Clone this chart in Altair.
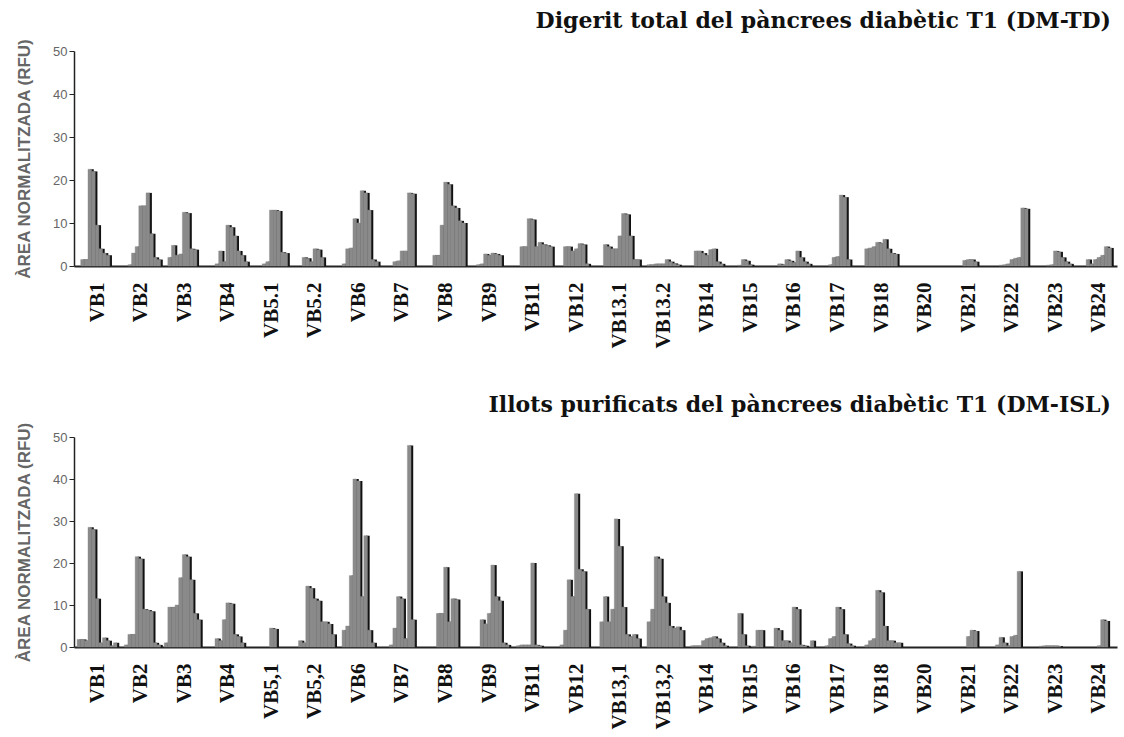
import json
import altair as alt
import pandas as pd

GROUPS_TD = ["VB1", "VB2", "VB3", "VB4", "VB5.1", "VB5.2", "VB6", "VB7", "VB8", "VB9",
             "VB11", "VB12", "VB13.1", "VB13.2", "VB14", "VB15", "VB16", "VB17", "VB18",
             "VB20", "VB21", "VB22", "VB23", "VB24"]
GROUPS_ISL = ["VB1", "VB2", "VB3", "VB4", "VB5,1", "VB5,2", "VB6", "VB7", "VB8", "VB9",
              "VB11", "VB12", "VB13,1", "VB13,2", "VB14", "VB15", "VB16", "VB17", "VB18",
              "VB20", "VB21", "VB22", "VB23", "VB24"]

TD_VALUES = [
    [0, 1.5, 1.5, 22.5, 22, 9.5, 4, 3, 2.5, 0, 0],
    [0, 0, 0.3, 3, 4.5, 14, 14, 17, 7.5, 2, 1.5],
    [0, 2, 4.8, 2.5, 2.8, 12.5, 12.3, 4, 3.8, 0, 0],
    [0, 0, 0.5, 3.5, 1, 9.5, 9, 7, 3.5, 2.5, 1],
    [0, 0, 0, 0.5, 1, 13, 13, 12.8, 3.2, 3, 0],
    [0, 0, 2, 1.8, 1, 4, 3.8, 2, 0, 0, 0],
    [0, 0.5, 4, 4.2, 11, 10, 17.5, 17, 13, 1.5, 1],
    [0, 0, 0, 1, 1.2, 3.5, 3.5, 17, 16.8, 0, 0],
    [0, 0, 2.5, 2.5, 9.5, 19.5, 19, 14, 13.5, 10.5, 10],
    [0, 0, 0.3, 0.5, 2.8, 2.5, 3, 2.8, 2.5, 0, 0],
    [0, 0, 4.5, 4.5, 11, 10.8, 4.5, 5.5, 5, 4.8, 4.5],
    [0, 0, 4.5, 4.5, 3.5, 4, 5.2, 5, 0.5, 0, 0],
    [0, 5, 4.5, 4, 4, 7, 12.2, 12, 7, 1.5, 1.5],
    [0, 0.3, 0.3, 0.5, 0.5, 0.5, 1.5, 1, 0.6, 0.3, 0],
    [0, 0, 3.5, 3.5, 3, 2.5, 3.8, 4, 1, 0.5, 0],
    [0, 0, 0.2, 1.5, 1.2, 0.3, 0, 0, 0, 0, 0],
    [0, 0.5, 0.3, 1.5, 1.2, 0.8, 3.5, 2, 1, 0.5, 0],
    [0, 0, 0, 0.3, 2, 2.2, 16.5, 16, 1.5, 0, 0],
    [0, 4, 4.2, 4.5, 5.5, 5.3, 6.2, 4, 3, 2.8, 0],
    [0, 0, 0, 0, 0, 0, 0, 0, 0, 0, 0],
    [0, 0, 0, 0, 1.3, 1.5, 1.5, 1, 0, 0, 0],
    [0, 0, 0.2, 0.3, 0.5, 1.5, 1.8, 2, 13.5, 13.3, 0],
    [0, 0, 0, 0.2, 0.3, 3.5, 3.3, 2, 1, 0.5, 0],
    [0, 0, 1.5, 0.5, 1.5, 2, 2.5, 4.5, 4.2, 0, 0],
]

ISL_VALUES = [
    [1.8, 1.8, 1.5, 28.5, 28, 11.5, 1, 2.2, 1.5, 0.3, 1],
    [0, 0.5, 3, 3, 21.5, 21, 9, 8.8, 8.5, 1, 0.5],
    [1, 9.5, 9.5, 10, 16.5, 22, 21.5, 16, 8, 6.5, 0],
    [0, 0, 2, 1.5, 6.5, 10.5, 10.3, 3, 2.5, 1, 0],
    [0, 0, 0, 0, 0, 4.5, 4.3, 0, 0, 0, 0],
    [0, 1.5, 1, 14.5, 14, 11.5, 11, 6, 6, 5.5, 3],
    [0, 4, 5, 17, 40, 39.5, 12, 26.5, 4, 1, 0],
    [0, 0, 0.5, 4.5, 12, 11.5, 2, 48, 6.5, 0, 0],
    [0, 0, 0, 8, 8, 19, 6, 11.5, 11.3, 0, 0],
    [0, 0, 0, 6.5, 5.5, 8, 19.5, 12, 11, 1, 0.5],
    [0, 0.3, 0.5, 0.5, 0.5, 20, 0.5, 0.3, 0, 0, 0],
    [0, 0.5, 4, 16, 12, 36.5, 18.5, 18, 9, 0, 0],
    [6, 12, 6, 9, 30.5, 24, 9.5, 3, 2.5, 3, 2],
    [0, 6, 9, 21.5, 21, 12, 10.5, 5, 4.5, 4.8, 4],
    [0, 0.3, 0.3, 0.3, 1.5, 2, 2.2, 2.5, 2, 1, 0.3],
    [0, 0, 8, 3, 0.3, 0, 0.2, 4, 4, 0, 0],
    [4.5, 4, 1.5, 1.5, 1, 9.5, 9, 0.5, 0.3, 0, 1.5],
    [0, 0, 0.3, 2, 2.5, 9.5, 9, 3, 0.8, 0.3, 0],
    [0, 0.5, 1.5, 2, 13.5, 13, 5, 1.5, 1.5, 1, 1],
    [0, 0, 0, 0, 0, 0, 0, 0, 0, 0, 0],
    [0, 0, 0, 0, 0, 2.5, 4, 3.8, 0, 0, 0],
    [0, 0.5, 2.3, 1, 0.3, 2.5, 2.8, 18, 0, 0, 0],
    [0, 0.2, 0.3, 0.3, 0.3, 0.3, 0.2, 0, 0, 0, 0],
    [0, 0, 0, 0, 0, 0.3, 6.5, 6.2, 0, 0, 0],
]

Y_TICKS = [0, 10, 20, 30, 40, 50]
TITLE_TD = "Digerit total del pàncrees diabètic T1 (DM-TD)"
TITLE_ISL = "Illots purificats del pàncrees diabètic T1 (DM-ISL)"
Y_TITLE = "ÀREA NORMALITZADA (RFU)"

SLOT = 12          # bars per group (11) + 1 empty slot
NBARS = 11
GREY = "#8a8a8a"


def make_frame(groups, values):
    rows = []
    for g, (name, vals) in enumerate(zip(groups, values)):
        for j, v in enumerate(vals):
            if v <= 0:
                continue
            rows.append({"group": name, "pos": g * SLOT + j, "pos2": g * SLOT + j + 1, "value": v})
    return pd.DataFrame(rows)


def panel(groups, values, title, height):
    df = make_frame(groups, values)
    centers = [g * SLOT + NBARS / 2 for g in range(len(groups))]
    label_expr = json.dumps(groups) + "[round((datum.value - %s) / %d)]" % (NBARS / 2, SLOT)
    xscale = alt.Scale(domain=[-0.85, 286.5], nice=False, zero=False)
    yscale = alt.Scale(domain=[0, 50], nice=False)
    xaxis = alt.Axis(values=centers, labelExpr=label_expr, labelAngle=270,
                     labelFont="Liberation Serif", labelFontSize=21, labelFontWeight="bold",
                     labelColor="#111", ticks=False, domainColor="#222", domainWidth=2,
                     labelPadding=16, grid=False, labelOverlap=False, title=None)
    yaxis = alt.Axis(values=Y_TICKS, title=Y_TITLE, titleFont="Liberation Sans",
                     titleFontSize=17, titleFontWeight="bold", titleColor="#666",
                     titlePadding=19, labelFont="Liberation Sans", labelFontSize=13,
                     labelColor="#666", labelPadding=2, tickSize=5, tickColor="#222",
                     domainColor="#222", domainWidth=1.5, grid=False)
    base = alt.Chart(df)
    shadow = base.mark_rect(color="#111", xOffset=2.2, x2Offset=2.2).encode(
        x=alt.X("pos:Q", scale=xscale, axis=xaxis),
        x2="pos2:Q",
        y=alt.Y("value:Q", scale=yscale, axis=yaxis),
        y2=alt.datum(0),
    )
    bars = base.mark_rect(color=GREY, stroke=GREY, strokeWidth=0.4).encode(
        x=alt.X("pos:Q", scale=xscale, axis=xaxis),
        x2="pos2:Q",
        y=alt.Y("value:Q", scale=yscale, axis=yaxis),
        y2=alt.datum(0),
    )
    return alt.layer(shadow, bars).properties(
        width=1043, height=height,
        title=alt.TitleParams(text=title, anchor="end", font="DejaVu Serif",
                              fontSize=22, fontWeight="bold", color="#111",
                              frame="group", offset=5, dx=-6),
    )


top = panel(GROUPS_TD, TD_VALUES, TITLE_TD, 215)
bottom = panel(GROUPS_ISL, ISL_VALUES, TITLE_ISL, 210)

chart = alt.vconcat(top, bottom, spacing=45).properties(
    padding={"left": 15, "top": 10, "right": 2, "bottom": 2},
    background="white",
).configure_view(stroke=None)

chart.save("out.html", embed_options={"renderer": "svg", "actions": False})
